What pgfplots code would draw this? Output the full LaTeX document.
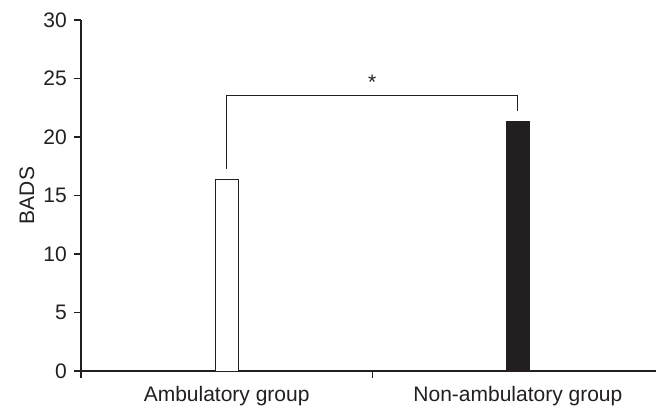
\documentclass[border=0pt]{standalone}
\usepackage{fontspec}
\setmainfont{Liberation Sans}
\usepackage{pgfplots}
\pgfplotsset{compat=1.18}
\definecolor{ink}{HTML}{231F20}
\begin{document}
\fontsize{21}{25}\selectfont
\begin{tikzpicture}
\begin{axis}[
  at={(0,0)}, anchor=south west,
  scale only axis,
  width=575pt, height=351pt,
  xmin=-0.5, xmax=1.474,
  ymin=0, ymax=30,
  axis lines*=left,
  axis line style={line width=1.3pt, color=ink},
  ytick={0,5,...,30},
  xtick={-0.5,0.5},
  xticklabels={},
  tick align=outside,
  major tick length=7pt,
  tick style={line width=1.1pt, color=ink},
  ticklabel style={color=ink},
  /pgf/number format/assume math mode=true,
  ylabel={BADS},
  ylabel style={at={(axis description cs:-0.0939,0.5)}, anchor=center, rotate=0, color=ink},
  ybar, bar width=23pt,
  clip=false,
]
\addplot[bar shift=0pt, draw=ink, line width=1pt, fill=white] coordinates {(0,16.4)};
\addplot[bar shift=0pt, draw=ink, line width=1pt, fill=ink] coordinates {(1,21.3)};
\draw[ink, line width=1.1pt] (axis cs:0,17.3) -- (axis cs:0,23.55) -- (axis cs:1,23.55) -- (axis cs:1,22.25);
\node[anchor=base, text=ink] at (axis cs:0.5,24.1) {*};
\node[anchor=base, text=ink, yshift=-30pt, inner sep=0pt] at (axis cs:0,0) {Ambulatory group};
\node[anchor=base, text=ink, yshift=-30pt, inner sep=0pt] at (axis cs:1,0) {Non-ambulatory group};
\end{axis}
\pgfresetboundingbox
\useasboundingbox (-81pt,-34pt) rectangle (575pt,371pt);
\end{tikzpicture}
\end{document}
